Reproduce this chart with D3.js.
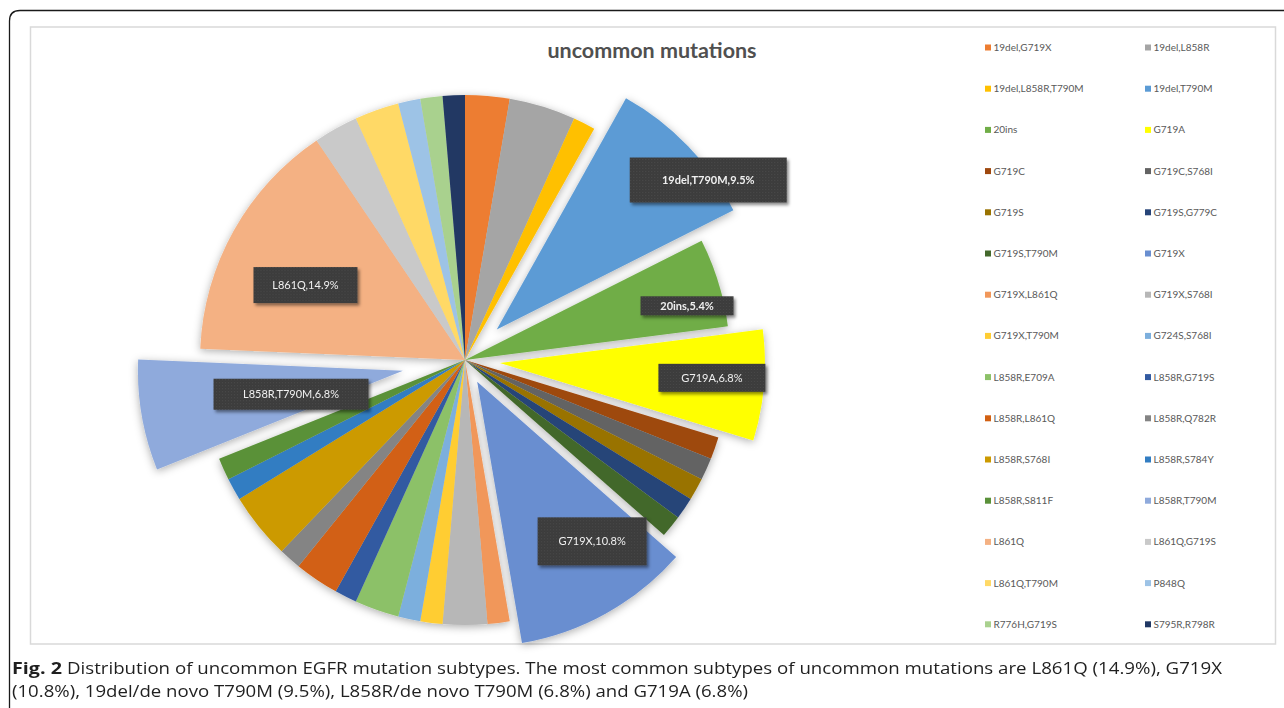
<!DOCTYPE html>
<html>
<head>
<meta charset="utf-8">
<script src="https://cdn.jsdelivr.net/npm/d3@7"></script>
<style>
  html, body { margin: 0; padding: 0; background: #ffffff; }
  svg { display: block; }
</style>
</head>
<body>
<svg id="chart" width="1284" height="708"></svg>
<script>
// Uncommon EGFR mutation subtypes (patient counts, 74 in total)
const categories = [
  "19del,G719X", "19del,L858R", "19del,L858R,T790M", "19del,T790M",
  "20ins", "G719A", "G719C", "G719C,S768I", "G719S", "G719S,G779C",
  "G719S,T790M", "G719X", "G719X,L861Q", "G719X,S768I", "G719X,T790M",
  "G724S,S768I", "L858R,E709A", "L858R,G719S", "L858R,L861Q", "L858R,Q782R",
  "L858R,S768I", "L858R,S784Y", "L858R,S811F", "L858R,T790M", "L861Q",
  "L861Q,G719S", "L861Q,T790M", "P848Q", "R776H,G719S", "S795R,R798R"
];
const counts = [
  2, 3, 1, 7,
  4, 5, 1, 1, 1, 1,
  1, 8, 1, 2, 1,
  1, 2, 1, 2, 1,
  3, 1, 1, 5, 11,
  2, 2, 1, 1, 1
];
const sliceColors = [
  "#ED7D31", "#A5A5A5", "#FFC000", "#5B9BD5",
  "#70AD47", "#FFFF00", "#9E480E", "#636363", "#997300", "#264478",
  "#43682B", "#698ED0", "#F1975A", "#B7B7B7", "#FFCD33",
  "#7CAFDD", "#8CC168", "#335AA1", "#D26012", "#848484",
  "#CC9A00", "#327DC2", "#5A9139", "#8FAADC", "#F4B183",
  "#C9C9C9", "#FFD966", "#9DC3E6", "#A9D18E", "#203864"
];
const labelledSlices = ["19del,T790M", "20ins", "G719A", "G719X", "L858R,T790M", "L861Q"];

const chartTitle = "uncommon mutations";
const captionBold = "Fig. 2";
const captionLines = [
  "Distribution of uncommon EGFR mutation subtypes. The most common subtypes of uncommon mutations are L861Q (14.9%), G719X",
  "(10.8%), 19del/de novo T790M (9.5%), L858R/de novo T790M (6.8%) and G719A (6.8%)"
];

// ---- layout ----
const W = 1284, H = 708;
const cx = 465, cy = 360, R = 265;
// pulled-out slices (px)
const explode = { "19del,T790M": 44, "20ins": 0, "G719A": 35, "G719X": 25, "L858R,T790M": 63 };
// data label boxes: nudge from the 0.75R centroid, box size, weight
const labelLayout = {
  "19del,T790M": { dx: 68, dy: -12, w: 157, h: 45, bold: true },
  "20ins":       { dx: 32, dy: 4,   w: 93,  h: 19, bold: true },
  "G719A":       { dx: 14, dy: -2,  w: 107, h: 28, bold: false },
  "G719X":       { dx: 18, dy: -14, w: 109, h: 48, bold: false },
  "L858R,T790M": { dx: 84, dy: -10, w: 155, h: 31, bold: false },
  "L861Q":       { dx: 14, dy: 22,  w: 104, h: 36, bold: false }
};

const total = d3.sum(counts);
const data = categories.map((c, i) => ({ name: c, value: counts[i], color: sliceColors[i] }));

const svg = d3.select("#chart");
const defs = svg.append("defs");

// soft shadow around pie slices
const pieShadow = defs.append("filter").attr("id", "pieShadow")
  .attr("x", "-20%").attr("y", "-20%").attr("width", "140%").attr("height", "140%");
pieShadow.append("feDropShadow")
  .attr("dx", 0).attr("dy", 2).attr("stdDeviation", 4.5)
  .attr("flood-color", "#000").attr("flood-opacity", 0.32);

// shadow under label boxes
const boxShadow = defs.append("filter").attr("id", "boxShadow")
  .attr("x", "-20%").attr("y", "-30%").attr("width", "140%").attr("height", "160%");
boxShadow.append("feDropShadow")
  .attr("dx", 2).attr("dy", 2.5).attr("stdDeviation", 1.6)
  .attr("flood-color", "#000").attr("flood-opacity", 0.45);

// fine dotted texture for label boxes
const pat = defs.append("pattern").attr("id", "boxTexture")
  .attr("width", 3).attr("height", 3).attr("patternUnits", "userSpaceOnUse");
pat.append("rect").attr("width", 3).attr("height", 3).attr("fill", "#3b3b3b");
pat.append("rect").attr("width", 1).attr("height", 1).attr("fill", "#4b4b4b");
pat.append("rect").attr("x", 1.5).attr("y", 1.5).attr("width", 1).attr("height", 1).attr("fill", "#444444");

// outer figure frame (rounded top-left corner)
svg.append("path")
  .attr("d", `M9.5,${H + 2} L9.5,21 Q9.5,10.5 20,10.5 L${W + 2},10.5`)
  .attr("fill", "none").attr("stroke", "#1a1a1a").attr("stroke-width", 1.3);

// chart area border
svg.append("rect")
  .attr("x", 30.5).attr("y", 27).attr("width", 1245).attr("height", 617)
  .attr("fill", "#ffffff").attr("stroke", "#d9d9d9").attr("stroke-width", 1.5);

// title
svg.append("text")
  .attr("x", 652).attr("y", 58)
  .attr("text-anchor", "middle")
  .attr("font-family", "Lato, 'Open Sans', sans-serif")
  .attr("font-weight", 700).attr("font-size", 21.5)
  .attr("fill", "#505050")
  .text(chartTitle);

// ---- pie ----
const pie = d3.pie().value(d => d.value).sort(null).startAngle(0).endAngle(2 * Math.PI);
const arcs = pie(data);
const arc = d3.arc().innerRadius(0).outerRadius(R);

function midAngle(a) { return (a.startAngle + a.endAngle) / 2; }
function offsetOf(a) {
  const e = explode[a.data.name] || 0;
  const m = midAngle(a);
  return [e * Math.sin(m), -e * Math.cos(m)];
}

const pieG = svg.append("g")
  .attr("transform", `translate(${cx},${cy})`)
  .attr("filter", "url(#pieShadow)");

pieG.selectAll("path.slice")
  .data(arcs)
  .join("path")
  .attr("class", "slice")
  .attr("transform", d => { const o = offsetOf(d); return `translate(${o[0]},${o[1]})`; })
  .attr("d", arc)
  .attr("fill", d => d.data.color);

// ---- data labels ----
const fmtPct = v => (v / total * 100).toFixed(1) + "%";
const labelG = svg.append("g").attr("transform", `translate(${cx},${cy})`);
arcs.filter(a => labelledSlices.includes(a.data.name)).forEach(a => {
  const L = labelLayout[a.data.name];
  const o = offsetOf(a);
  const m = midAngle(a);
  const r = 0.75 * R;
  const x = o[0] + r * Math.sin(m) + L.dx;
  const y = o[1] - r * Math.cos(m) + L.dy;
  const g = labelG.append("g").attr("transform", `translate(${x},${y})`);
  g.append("rect")
    .attr("x", -L.w / 2).attr("y", -L.h / 2).attr("width", L.w).attr("height", L.h)
    .attr("fill", "url(#boxTexture)")
    .attr("filter", "url(#boxShadow)");
  g.append("text")
    .attr("text-anchor", "middle").attr("dy", "0.36em")
    .attr("font-family", "Lato, 'Open Sans', sans-serif")
    .attr("font-size", 11)
    .attr("font-weight", L.bold ? 700 : 400)
    .attr("fill", "#f0f0f0")
    .text(`${a.data.name},${fmtPct(a.data.value)}`);
});

// ---- legend ----
const legendX = [985, 1145];
const legendY0 = 47.5, legendStep = 41.2;
const legend = svg.append("g");
const items = legend.selectAll("g.item")
  .data(data)
  .join("g")
  .attr("class", "item")
  .attr("transform", (d, i) => `translate(${legendX[i % 2]},${legendY0 + Math.floor(i / 2) * legendStep})`);
items.append("rect")
  .attr("x", 0).attr("y", -3).attr("width", 6).attr("height", 6)
  .attr("fill", d => d.color);
items.append("text")
  .attr("x", 8.5).attr("dy", "0.35em")
  .attr("font-family", "Lato, 'Open Sans', sans-serif")
  .attr("font-size", 10)
  .attr("fill", "#595959")
  .text(d => d.name);

// ---- caption ----
const cap = svg.append("g")
  .attr("font-family", "'Open Sans', 'Noto Sans', sans-serif")
  .attr("font-size", 15.5)
  .attr("fill", "#1f1f1f");
cap.append("text").attr("x", 12).attr("y", 674)
  .attr("font-weight", 700)
  .attr("textLength", 50).attr("lengthAdjust", "spacingAndGlyphs")
  .text(captionBold);
cap.append("text").attr("x", 67).attr("y", 674)
  .attr("textLength", 1155).attr("lengthAdjust", "spacingAndGlyphs")
  .text(captionLines[0]);
cap.append("text").attr("x", 12).attr("y", 697)
  .attr("textLength", 736).attr("lengthAdjust", "spacingAndGlyphs")
  .text(captionLines[1]);
</script>
</body>
</html>
